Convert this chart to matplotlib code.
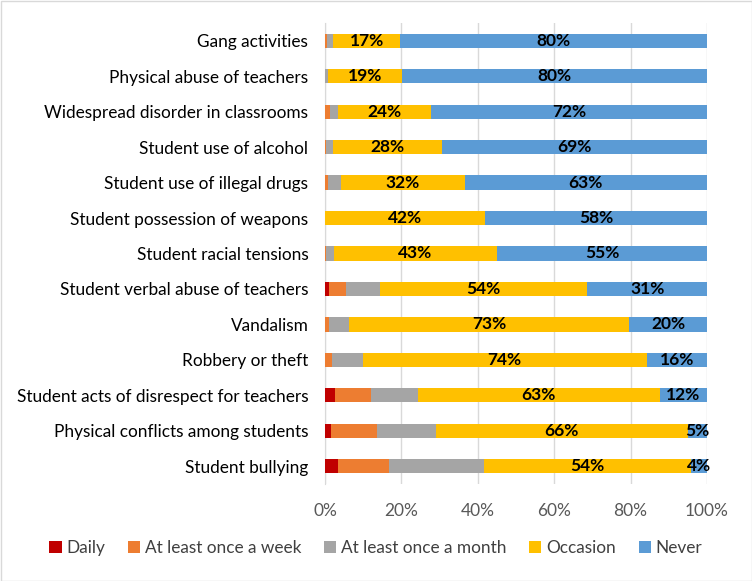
import matplotlib
matplotlib.use("Agg")
import matplotlib.pyplot as plt
import numpy as np

categories = ["Gang activities", "Physical abuse of teachers", "Widespread disorder in classrooms",
              "Student use of alcohol", "Student use of illegal drugs", "Student possession of weapons",
              "Student racial tensions", "Student verbal abuse of teachers", "Vandalism",
              "Robbery or theft", "Student acts of disrespect for teachers",
              "Physical conflicts among students", "Student bullying"]
series = ["Daily", "At least once a week", "At least once a month", "Occasion", "Never"]
daily    = [0.0, 0.0, 0.0, 0.0, 0.0, 0.0, 0.0, 1.0, 0.0, 0.0, 2.6, 1.6, 3.4]
weekly   = [0.6, 0.0, 1.3, 0.3, 0.8, 0.0, 0.3, 4.4, 1.1, 1.8, 9.4, 12.0, 13.3]
monthly  = [1.6, 0.8, 2.1, 1.9, 3.4, 0.0, 2.1, 8.9, 5.1, 8.1, 12.3, 15.4, 24.8]
occasion = [17.4, 19.4, 24.3, 28.4, 32.4, 41.8, 42.6, 54.4, 73.4, 74.3, 63.4, 66.0, 54.3]
never    = [80.4, 79.8, 72.3, 69.4, 63.4, 58.2, 55.0, 31.3, 20.4, 15.8, 12.3, 5.0, 4.2]
colors = ["#C00000", "#ED7D31", "#A5A5A5", "#FFC000", "#5B9BD5"]
xticks = [0, 20, 40, 60, 80, 100]

plt.rcParams['font.family'] = ['Lato', 'DejaVu Sans']
fig = plt.figure(figsize=(7.52, 5.81), dpi=100)
ax = fig.add_axes([325/752, 1-484/581, (707-325)/752, (484-23)/581])

y = np.arange(len(categories))
data = [daily, weekly, monthly, occasion, never]
left = np.zeros(len(categories))
for i, (vals, name, c) in enumerate(zip(data, series, colors)):
    vals = np.array(vals, dtype=float)
    ax.barh(y, vals, left=left, height=0.4, color=c, label=name, zorder=3)
    if i >= 3:
        for yi, (l, v) in enumerate(zip(left, vals)):
            ax.text(l + v/2, yi, f"{int(round(v))}%", ha="center", va="center",
                    fontsize=12.5, fontweight="bold", color="black", zorder=4)
    left += vals

ax.set_ylim(len(categories)-0.5, -0.5)
ax.set_xlim(0, 100)
ax.set_yticks(y)
ax.set_yticklabels(categories, fontsize=12.4, color="#000000")
ax.set_xticks(xticks)
ax.set_xticklabels([f"{t}%" for t in xticks], fontsize=12.5, color="#595959")
ax.tick_params(axis="both", length=0)
ax.tick_params(axis="y", pad=12)
ax.tick_params(axis="x", pad=14)
for s in ["top", "right", "bottom"]:
    ax.spines[s].set_visible(False)
ax.spines["left"].set_color("#D9D9D9")
ax.xaxis.grid(True, color="#D9D9D9", linewidth=1, zorder=0)
ax.set_axisbelow(True)

fig.legend(loc="center", bbox_to_anchor=(0.5, 1-548/581), ncol=5, frameon=False,
           fontsize=12.4, handlelength=0.7, handleheight=0.7, handletextpad=0.3,
           columnspacing=1.3, labelcolor="#404040")

fig.patches.append(plt.Rectangle((0.5/752, 0.5/581), 1-1/752, 1-1/581, transform=fig.transFigure,
                                 fill=False, edgecolor="#D9D9D9", linewidth=1))
fig.savefig("out.png", dpi=100)
